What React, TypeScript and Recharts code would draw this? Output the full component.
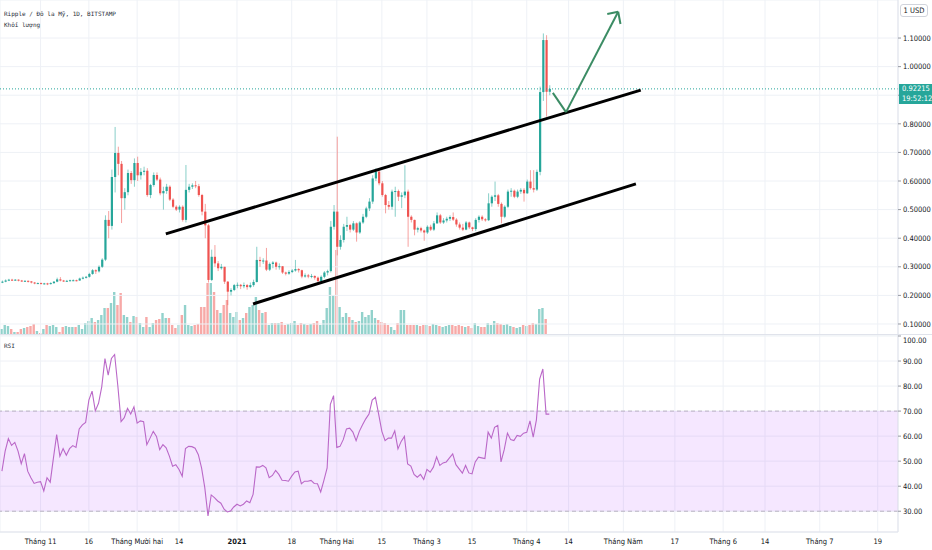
import React from 'react';
import {
  ComposedChart,
  Bar,
  Line,
  XAxis,
  YAxis,
  CartesianGrid,
  ReferenceLine,
  ReferenceArea,
  Cell
} from 'recharts';

// XRP/USD daily, Bitstamp, from 20 Oct 2020 (day 0) to 8 Apr 2021 (day 170)
const firstOpen = 0.245;

const closes = [
  0.248, 0.252, 0.255, 0.254, 0.255, 0.252, 0.25, 0.251, 0.249, 0.245,
  0.243, 0.243, 0.242, 0.242, 0.241, 0.243, 0.248, 0.256, 0.252, 0.25,
  0.251, 0.253, 0.253, 0.252, 0.259, 0.262, 0.265, 0.275, 0.288, 0.284,
  0.3, 0.325, 0.464, 0.443, 0.614, 0.698, 0.66, 0.54, 0.561, 0.628,
  0.603, 0.663, 0.62, 0.632, 0.636, 0.551, 0.586, 0.621, 0.605, 0.557,
  0.565, 0.58, 0.535, 0.51, 0.5, 0.51, 0.464, 0.569, 0.58, 0.585,
  0.582, 0.551, 0.493, 0.445, 0.254, 0.335, 0.312, 0.295, 0.3, 0.248,
  0.213, 0.219, 0.236, 0.237, 0.232, 0.236, 0.229, 0.236, 0.247, 0.324,
  0.32, 0.322, 0.29, 0.31, 0.315, 0.3, 0.302, 0.28, 0.276, 0.282,
  0.287, 0.292, 0.288, 0.266, 0.27, 0.266, 0.268, 0.262, 0.25, 0.265,
  0.28, 0.285, 0.44, 0.493, 0.37, 0.394, 0.44, 0.446, 0.43, 0.452,
  0.42, 0.455, 0.475, 0.504, 0.528, 0.609, 0.633, 0.592, 0.551, 0.516,
  0.51, 0.563, 0.565, 0.545, 0.55, 0.563, 0.475, 0.464, 0.43, 0.435,
  0.427, 0.42, 0.44, 0.43, 0.452, 0.48, 0.455, 0.462, 0.468, 0.474,
  0.465, 0.448, 0.437, 0.43, 0.455, 0.438, 0.432, 0.464, 0.475, 0.466,
  0.463, 0.522, 0.545, 0.55, 0.52, 0.475, 0.51, 0.563, 0.566, 0.545,
  0.563, 0.569, 0.557, 0.598, 0.575, 0.57, 0.632, 0.911, 1.093, 0.912,
  0.92215
];

const highs = [
  0.252, 0.256, 0.258, 0.258, 0.257, 0.256, 0.254, 0.253, 0.252, 0.25,
  0.247, 0.245, 0.245, 0.244, 0.244, 0.246, 0.25, 0.262, 0.264, 0.254,
  0.254, 0.255, 0.256, 0.255, 0.262, 0.266, 0.268, 0.279, 0.292, 0.291,
  0.305, 0.33, 0.48, 0.495, 0.64, 0.789, 0.72, 0.67, 0.575, 0.64,
  0.635, 0.679, 0.685, 0.645, 0.65, 0.645, 0.59, 0.63, 0.63, 0.612,
  0.58, 0.59, 0.585, 0.54, 0.515, 0.515, 0.515, 0.656, 0.59, 0.592,
  0.6, 0.59, 0.555, 0.52, 0.45, 0.36, 0.376, 0.32, 0.31, 0.3,
  0.25, 0.225, 0.24, 0.245, 0.24, 0.245, 0.24, 0.245, 0.255, 0.37,
  0.335, 0.33, 0.366, 0.315, 0.32, 0.318, 0.312, 0.302, 0.283, 0.288,
  0.292, 0.324, 0.295, 0.29, 0.277, 0.275, 0.275, 0.27, 0.266, 0.27,
  0.285, 0.29, 0.46, 0.516, 0.755, 0.41, 0.45, 0.475, 0.45, 0.46,
  0.455, 0.46, 0.485, 0.51, 0.54, 0.62, 0.645, 0.642, 0.6, 0.555,
  0.53, 0.57, 0.58, 0.57, 0.56, 0.655, 0.57, 0.48, 0.465, 0.44,
  0.44, 0.43, 0.445, 0.447, 0.46, 0.49, 0.485, 0.47, 0.475, 0.48,
  0.49, 0.47, 0.455, 0.45, 0.46, 0.458, 0.44, 0.47, 0.48, 0.48,
  0.47, 0.557, 0.55, 0.598, 0.555, 0.525, 0.515, 0.57, 0.575, 0.57,
  0.57, 0.575, 0.575, 0.605, 0.638, 0.638, 0.64, 0.93, 1.116, 1.11,
  0.935
];

const lows = [
  0.243, 0.246, 0.25, 0.251, 0.251, 0.249, 0.247, 0.248, 0.245, 0.242,
  0.239, 0.24, 0.239, 0.238, 0.236, 0.238, 0.24, 0.246, 0.249, 0.247,
  0.248, 0.249, 0.25, 0.249, 0.251, 0.256, 0.259, 0.262, 0.272, 0.275,
  0.28, 0.296, 0.32, 0.4, 0.43, 0.56, 0.62, 0.453, 0.5, 0.55,
  0.59, 0.58, 0.6, 0.605, 0.62, 0.545, 0.54, 0.58, 0.6, 0.55,
  0.5, 0.555, 0.53, 0.505, 0.495, 0.49, 0.458, 0.455, 0.56, 0.572,
  0.575, 0.545, 0.48, 0.4, 0.245, 0.25, 0.3, 0.285, 0.29, 0.24,
  0.166, 0.2, 0.215, 0.225, 0.222, 0.225, 0.22, 0.225, 0.23, 0.245,
  0.3, 0.31, 0.285, 0.285, 0.295, 0.29, 0.29, 0.275, 0.27, 0.272,
  0.278, 0.283, 0.28, 0.26, 0.262, 0.26, 0.26, 0.255, 0.245, 0.245,
  0.26, 0.27, 0.28, 0.43, 0.34, 0.36, 0.385, 0.425, 0.42, 0.425,
  0.388, 0.415, 0.45, 0.47, 0.495, 0.52, 0.6, 0.585, 0.545, 0.487,
  0.5, 0.5, 0.475, 0.53, 0.505, 0.54, 0.37, 0.455, 0.41, 0.42,
  0.42, 0.391, 0.415, 0.425, 0.425, 0.45, 0.45, 0.45, 0.455, 0.46,
  0.46, 0.44, 0.43, 0.425, 0.428, 0.432, 0.425, 0.425, 0.455, 0.46,
  0.458, 0.46, 0.51, 0.53, 0.51, 0.452, 0.47, 0.505, 0.545, 0.54,
  0.54, 0.555, 0.528, 0.555, 0.57, 0.56, 0.565, 0.62, 0.88, 0.825,
  0.9
];

// volume, millions of XRP
const volumes = [
  6, 10, 9, 6, 3, 3, 6, 7, 8, 9,
  11, 4, 2, 6, 10, 9, 10, 8, 3, 8,
  9, 8, 8, 8, 10, 6, 12, 14, 17, 13,
  15, 20, 27, 27, 32, 43, 30, 42, 20, 18,
  13, 19, 18, 12, 8, 18, 8, 12, 15, 16,
  22, 17, 17, 10, 7, 10, 20, 30, 10, 9,
  10, 11, 28, 28, 52, 52, 43, 25, 22, 30,
  35, 22, 18, 23, 15, 17, 22, 28, 30, 38,
  25, 22, 23, 10, 12, 12, 12, 13, 10, 11,
  12, 14, 10, 12, 11, 10, 11, 12, 14, 10,
  15, 27, 48, 40, 85, 28, 18, 22, 18, 15,
  13, 14, 23, 18, 20, 25, 17, 15, 13, 12,
  10, 8, 5, 12, 25, 25, 10, 10, 10, 10,
  9, 10, 10, 9, 11, 10, 9, 8, 9, 10,
  10, 9, 10, 9, 8, 9, 7, 12, 9, 8,
  8, 12, 10, 14, 12, 11, 10, 11, 9, 8,
  7, 8, 10, 9, 10, 12, 11, 26, 27, 16,
  1
];

const rsiValues = [
  46, 54, 59, 56.3, 57.5, 54, 49, 53, 46, 43.4,
  41.1, 41.6, 41.8, 38.1, 43.4, 41.6, 51.3, 60.6, 52, 55,
  52.4, 55, 56.2, 55.5, 62.9, 64.5, 65.5, 74.4, 78, 70.1,
  73.1, 79.7, 91, 84.4, 91, 92.6, 80, 65.8, 67.4, 71.1,
  68.8, 71.7, 65.2, 66.1, 65.8, 56.6, 59.2, 61.9, 59.9, 54.6,
  56.6, 55.3, 52, 48, 48.6, 46.7, 44, 55, 55.9, 55.8,
  55.2, 52.6, 47.3, 39.4, 28.1, 36.5, 35.4, 34.1, 33.2, 30.8,
  29.7, 30.1, 31.7, 32.8, 32.1, 32.8, 34.1, 33.4, 36.7, 47.7,
  47.6, 48.3, 47.3, 43.4, 44.3, 46.3, 44.7, 42.4, 42.3, 42,
  44, 45.7, 46, 41, 42, 42, 42.3, 41.1, 41, 37.7,
  42.3, 47.3, 72.7, 76.2, 55.5, 55.9, 58.6, 62.9, 63.2, 61.6,
  58.2, 61.9, 64.5, 66.9, 68.8, 74.4, 75.5, 68.8, 61.9, 58.2,
  59.2, 59.2, 62.1, 54.9, 57.9, 59.9, 48.9, 48, 44.7, 43.6,
  44.7, 42.7, 46.7, 45.6, 47.6, 51.7, 48.3, 49.3, 49.7, 51.3,
  52.9, 48.6, 46.9, 45.2, 48.3, 45.3, 44.9, 49.7, 51.6, 51.3,
  51, 61.6, 59.2, 63.5, 64.3, 49.7, 54.6, 61.2, 58.6, 58.2,
  60.3, 59.9, 61.2, 61.5, 66.1, 59.6, 66.5, 82.8, 86.8, 68.8,
  68.8
];

// day index of each time-axis label
const tickDays = [12, 27, 42, 55, 73, 90, 104, 118, 132, 146, 163, 176, 193, 209, 224, 237, 254, 272];
const tickLabels = [
  'Tháng 11', '16', 'Tháng Mười hai', '14', '2021', '18', 'Tháng Hai', '15', 'Tháng 3',
  '15', 'Tháng 4', '14', 'Tháng Năm', '17', 'Tháng 6', '14', 'Tháng 7', '19'
];
const priceTicks = [0.1, 0.2, 0.3, 0.4, 0.5, 0.6, 0.7, 0.8, 0.9, 1.0, 1.1];
const rsiTicks = [30, 40, 50, 60, 70, 80, 90, 100];

// hand-drawn channel and projection arrow (day, price)
const trendLines = [
  [{ x: 50.9, y: 0.415 }, { x: 198.4, y: 0.918 }],
  [{ x: 78, y: 0.17 }, { x: 196.9, y: 0.59 }]
];
const arrowSegments = [
  [{ x: 171.1, y: 0.908 }, { x: 175.2, y: 0.841 }],
  [{ x: 175.2, y: 0.841 }, { x: 191.4, y: 1.192 }],
  [{ x: 191.4, y: 1.192 }, { x: 188.0, y: 1.184 }],
  [{ x: 191.4, y: 1.192 }, { x: 192.1, y: 1.149 }]
];

const W = 932;
const PRICE_H = 335;
const RSI_H = 215;
const AXIS_W = 34;
const X_DOMAIN = [-0.6, 278.3];
const PRICE_DOMAIN = [0.0615, 1.233];
const RSI_DOMAIN = [21.7, 100.4];
const VOL_MAX = 335;

const UP = '#26a69a';
const DOWN = '#ef5350';
const WICK_UP = 'rgba(38,166,154,0.55)';
const WICK_DOWN = 'rgba(239,83,80,0.55)';
const VOL_UP = '#92d2cc';
const VOL_DOWN = '#f7a9a7';
const GRID = '#eef1f6';
const BORDER = '#e0e3eb';
const TEXT = '#131722';
const FONT = "'Liberation Sans Narrow', 'DejaVu Sans Condensed', Roboto, sans-serif";
const MONO = "'DejaVu Sans Mono', 'Liberation Mono', monospace";

const rows = closes.map((c, i) => ({
  day: i,
  o: i === 0 ? firstOpen : closes[i - 1],
  h: highs[i],
  l: lows[i],
  c,
  range: [lows[i], highs[i]],
  vol: volumes[i],
  rsi: rsiValues[i]
}));

const lastClose = closes[closes.length - 1];

function Candle(props: any) {
  const { x, y, width, height, payload } = props;
  if (!payload) return null;
  const { o, h, l, c } = payload;
  const top = Math.min(y, y + height);
  const bot = Math.max(y, y + height);
  const span = h - l || 1;
  const py = (v: number) => top + ((h - v) / span) * (bot - top);
  const up = c >= o;
  const cx = x + width / 2;
  const bodyTop = py(Math.max(o, c));
  const bodyH = Math.max(1, py(Math.min(o, c)) - bodyTop);
  return (
    <g>
      <line x1={cx} x2={cx} y1={top} y2={bot} stroke={up ? WICK_UP : WICK_DOWN} strokeWidth={1} />
      <rect x={x} y={bodyTop} width={width} height={bodyH} fill={up ? UP : DOWN} />
    </g>
  );
}

// the 0.9 label sits under the last-price marker, so it is left out
function PriceTick({ x, y, payload }: any) {
  if (Math.abs(payload.value - 0.9) < 1e-6) return null;
  return (
    <text x={x} y={y} dy={2.7} textAnchor="start" fontSize={7.5} fontFamily={FONT} fill={TEXT}>
      {Number(payload.value).toFixed(5)}
    </text>
  );
}

function RsiTick({ x, y, payload }: any) {
  const top = payload.value === 100;
  return (
    <text x={x} y={y} dy={top ? 6.5 : 2.7} textAnchor="start" fontSize={7.5} fontFamily={FONT} fill={TEXT}>
      {Number(payload.value).toFixed(2)}
    </text>
  );
}

function DayTick({ x, y, payload }: any) {
  const label = tickLabels[tickDays.indexOf(payload.value)] ?? '';
  return (
    <text x={x} y={y} dy={12} textAnchor="middle" fontSize={7.5} fontFamily={FONT} fill={TEXT}
      fontWeight={label === '2021' ? 700 : 400}>
      {label}
    </text>
  );
}

export default function App() {
  return (
    <div style={{ position: 'absolute', left: 0, top: 0, width: W, height: 550, background: '#fff', overflow: 'hidden' }}>
      {/* volume layer */}
      <div style={{ position: 'absolute', left: 0, top: 0 }}>
        <ComposedChart width={W} height={PRICE_H} data={rows} margin={{ top: 0, right: AXIS_W, left: 0, bottom: 0 }}>
          <XAxis type="number" dataKey="day" domain={X_DOMAIN} hide />
          <YAxis yAxisId="vol" domain={[0, VOL_MAX]} hide />
          <Bar yAxisId="vol" dataKey="vol" barSize={2.4} isAnimationActive={false}>
            {rows.map((r) => (
              <Cell key={r.day} fill={r.c >= r.o ? VOL_UP : VOL_DOWN} />
            ))}
          </Bar>
        </ComposedChart>
      </div>

      {/* price layer */}
      <div style={{ position: 'absolute', left: 0, top: 0 }}>
        <ComposedChart width={W} height={PRICE_H} data={rows} margin={{ top: 0, right: 0, left: 0, bottom: 0 }}>
          <CartesianGrid stroke={GRID} />
          <XAxis type="number" dataKey="day" domain={X_DOMAIN} ticks={tickDays} hide />
          <YAxis orientation="right" width={AXIS_W} domain={PRICE_DOMAIN} ticks={priceTicks} interval={0}
            tick={<PriceTick />} tickSize={3} tickLine={{ stroke: '#9598a1' }} axisLine={{ stroke: BORDER }} allowDataOverflow />
          <ReferenceLine y={lastClose} stroke={UP} strokeDasharray="1 2" />
          <Bar dataKey="range" barSize={2.2} shape={<Candle />} isAnimationActive={false} />
          {trendLines.map((seg, k) => (
            <ReferenceLine key={'t' + k} segment={seg} stroke="#000" strokeWidth={3} />
          ))}
          {arrowSegments.map((seg, k) => (
            <ReferenceLine key={'a' + k} segment={seg} stroke="#3b8c64" strokeWidth={2} />
          ))}
        </ComposedChart>
      </div>

      {/* pane separator */}
      <div style={{ position: 'absolute', left: 0, top: PRICE_H - 1, width: W, height: 1, background: BORDER }} />

      {/* RSI pane */}
      <div style={{ position: 'absolute', left: 0, top: PRICE_H }}>
        <ComposedChart width={W} height={RSI_H} data={rows} margin={{ top: 0, right: 0, left: 0, bottom: 0 }}>
          <CartesianGrid stroke={GRID} />
          <XAxis type="number" dataKey="day" domain={X_DOMAIN} ticks={tickDays} interval={0} height={18}
            tick={<DayTick />} tickLine={false} tickSize={0} tickMargin={0} axisLine={{ stroke: BORDER }} />
          <YAxis orientation="right" width={AXIS_W} domain={RSI_DOMAIN} ticks={rsiTicks} interval={0}
            tick={<RsiTick />} tickSize={3} tickLine={{ stroke: '#9598a1' }} axisLine={{ stroke: BORDER }} allowDataOverflow />
          <ReferenceArea y1={30} y2={70} fill="#9915ff" fillOpacity={0.1} stroke="none" />
          <ReferenceLine y={70} stroke="#b9b3c2" strokeDasharray="4 3" />
          <ReferenceLine y={30} stroke="#b9b3c2" strokeDasharray="4 3" />
          <Line type="linear" dataKey="rsi" stroke="#ba68c8" strokeWidth={1.1} dot={false} isAnimationActive={false} />
        </ComposedChart>
      </div>

      {/* legends and price labels */}
      <div style={{ position: 'absolute', left: 4, top: 8, fontFamily: MONO, fontSize: 6, color: '#2a2e39', lineHeight: '11px' }}>
        <div>Ripple / Đô la Mỹ, 1D, BITSTAMP</div>
        <div>Khối lượng</div>
      </div>
      <div style={{ position: 'absolute', left: 4, top: PRICE_H + 7, fontFamily: MONO, fontSize: 6, color: '#2a2e39' }}>RSI</div>
      <div style={{
        position: 'absolute', left: 900, top: 4, width: 26, height: 11, border: '1px solid #d1d4dc', borderRadius: 3,
        fontFamily: FONT, fontSize: 7.5, color: TEXT, textAlign: 'center', lineHeight: '11px', background: '#fff'
      }}>1 USD</div>
      <div style={{
        position: 'absolute', left: 899, top: 84, width: 33, height: 20, background: UP, color: '#fff',
        fontFamily: FONT, fontSize: 7.5, lineHeight: '10px', paddingLeft: 3, boxSizing: 'border-box'
      }}>
        <div>{lastClose.toFixed(5)}</div>
        <div>19:52:12</div>
      </div>
    </div>
  );
}
